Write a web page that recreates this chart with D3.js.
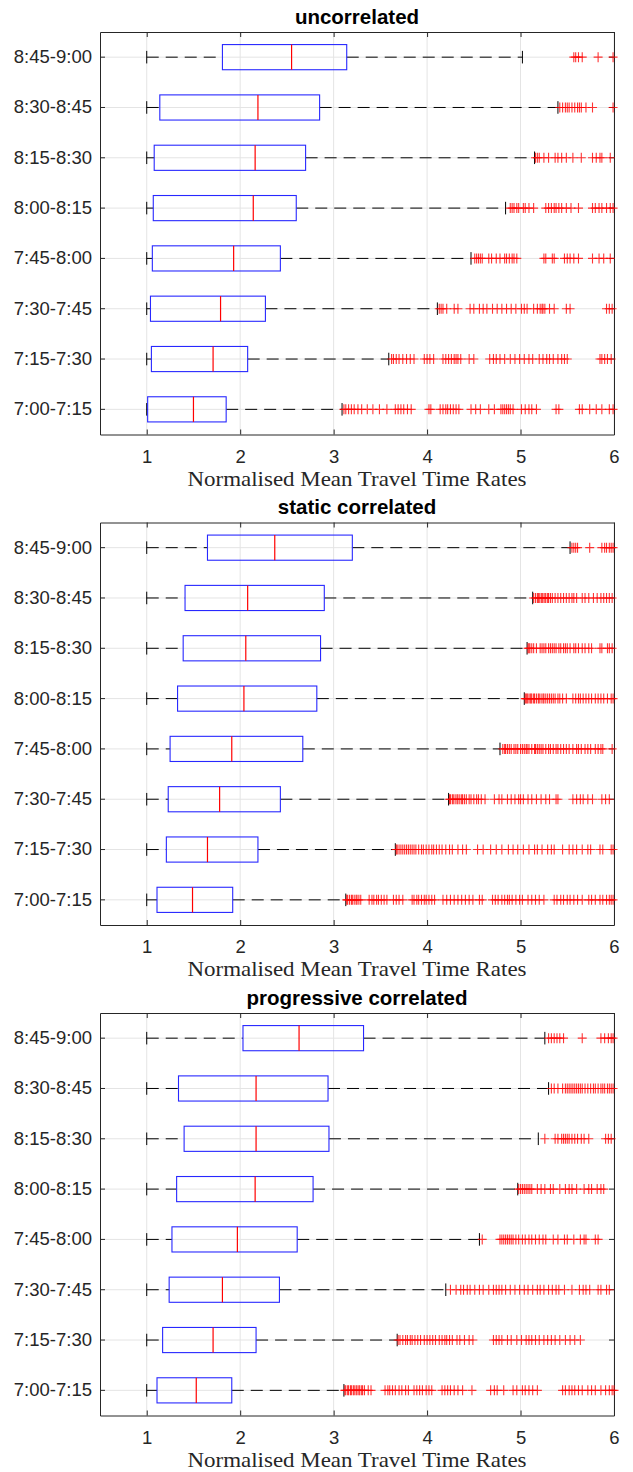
<!DOCTYPE html>
<html lang="en">
<head>
<meta charset="utf-8">
<title>Normalised Mean Travel Time Rates</title>
<style>
  body { margin: 0; background: #fff; }
  .axis text { font-family: "Liberation Sans", Arial, sans-serif; font-size: 18.5px; fill: #262626; }
  .axis path, .axis line { stroke: #262626; }
  .ttl { font-family: "Liberation Sans", Arial, sans-serif; font-weight: bold; font-size: 20.5px; }
  .xlab { font-family: "Liberation Serif", serif; font-size: 21px; fill: #262626; }
</style>
<script src="https://cdn.jsdelivr.net/npm/d3@7"></script>
</head>
<body>
<svg width="633" height="1472"></svg>
<script>
// categories, bottom (first) to top (last)
var periods = ["7:00-7:15", "7:15-7:30", "7:30-7:45", "7:45-8:00", "8:00-8:15", "8:15-8:30", "8:30-8:45", "8:45-9:00"];
var xTicks = [1, 2, 3, 4, 5, 6];
var titles = ["uncorrelated", "static correlated", "progressive correlated"];
var xLabel = "Normalised Mean Travel Time Rates";

// uncorrelated
var uncLo  = [1.00, 1.00, 1.00, 1.00, 1.00, 1.00, 1.00, 1.00];
var uncQ1  = [1.01, 1.05, 1.04, 1.06, 1.07, 1.08, 1.14, 1.81];
var uncMed = [1.50, 1.71, 1.79, 1.93, 2.14, 2.16, 2.19, 2.55];
var uncQ3  = [1.85, 2.08, 2.27, 2.43, 2.60, 2.70, 2.85, 3.14];
var uncHi  = [3.09, 3.59, 4.11, 4.47, 4.84, 5.15, 5.40, 5.02];
var uncOut = [
  [3.11,3.13,3.16,3.19,3.22,3.26,3.30,3.36,3.42,3.49,3.57,3.66,3.69,3.72,3.75,3.79,3.83,4.02,4.04,4.14,4.17,4.20,4.22,4.25,4.28,4.31,4.34,4.47,4.52,4.57,4.66,4.72,4.79,4.81,4.83,4.85,4.87,4.89,4.92,5.01,5.05,5.09,5.12,5.17,5.38,5.41,5.63,5.66,5.74,5.81,5.87,5.95,5.99],
  [3.62,3.64,3.67,3.70,3.74,3.78,3.82,3.86,3.97,4.00,4.03,4.07,4.17,4.20,4.23,4.26,4.29,4.31,4.33,4.36,4.45,4.50,4.67,4.71,4.74,4.78,4.83,4.89,4.94,4.99,5.04,5.09,5.13,5.20,5.24,5.28,5.31,5.35,5.40,5.44,5.47,5.50,5.85,5.87,5.90,5.93,5.97],
  [4.13,4.15,4.17,4.21,4.29,4.33,4.46,4.50,4.56,4.60,4.64,4.70,4.75,4.80,4.85,4.90,4.95,5.01,5.04,5.07,5.14,5.18,5.21,5.23,5.24,5.26,5.31,5.36,5.49,5.53,5.92,5.95,5.98],
  [4.51,4.53,4.55,4.57,4.59,4.66,4.69,4.74,4.78,4.83,4.85,4.88,4.91,4.93,4.96,5.25,5.27,5.34,5.36,5.47,5.50,5.53,5.57,5.62,5.77,5.84,5.89,5.96],
  [4.89,4.91,4.93,4.96,4.98,5.03,5.05,5.09,5.14,5.27,5.30,5.33,5.36,5.38,5.41,5.44,5.49,5.54,5.62,5.77,5.80,5.84,5.87,5.92,5.96,5.99],
  [5.16,5.18,5.20,5.25,5.30,5.37,5.40,5.44,5.49,5.56,5.65,5.77,5.81,5.85,5.87,5.96],
  [5.42,5.45,5.48,5.50,5.52,5.55,5.58,5.61,5.63,5.65,5.70,5.77,5.99],
  [5.57,5.59,5.62,5.66,5.83,5.99]
];

// static correlated
var stcLo  = [1.00, 1.00, 1.00, 1.00, 1.00, 1.00, 1.00, 1.00];
var stcQ1  = [1.11, 1.21, 1.23, 1.25, 1.33, 1.39, 1.41, 1.65];
var stcMed = [1.49, 1.65, 1.78, 1.91, 2.04, 2.06, 2.08, 2.37];
var stcQ3  = [1.92, 2.19, 2.43, 2.67, 2.82, 2.86, 2.90, 3.20];
var stcHi  = [3.13, 3.66, 4.23, 4.78, 5.04, 5.07, 5.13, 5.53];
var stcOut = [
  [3.14,3.15,3.17,3.19,3.20,3.22,3.24,3.25,3.27,3.29,3.38,3.41,3.43,3.46,3.48,3.51,3.54,3.57,3.64,3.67,3.70,3.74,3.84,3.86,3.89,3.91,3.94,3.97,3.99,4.02,4.05,4.08,4.17,4.21,4.25,4.29,4.33,4.37,4.41,4.45,4.49,4.56,4.59,4.70,4.73,4.76,4.80,4.83,4.86,4.88,4.91,4.95,4.99,5.02,5.08,5.12,5.16,5.20,5.25,5.36,5.39,5.43,5.46,5.50,5.53,5.57,5.61,5.66,5.73,5.76,5.80,5.85,5.88,5.92,5.95,5.97,5.99],
  [3.67,3.68,3.70,3.72,3.74,3.76,3.78,3.80,3.82,3.84,3.86,3.88,3.91,3.94,3.96,3.99,4.02,4.05,4.07,4.10,4.13,4.16,4.20,4.24,4.27,4.33,4.38,4.42,4.54,4.60,4.68,4.74,4.80,4.87,4.92,4.97,5.03,5.09,5.15,5.18,5.23,5.29,5.33,5.36,5.45,5.52,5.56,5.60,5.66,5.72,5.75,5.85,5.88,5.97,5.99],
  [4.24,4.25,4.27,4.28,4.30,4.32,4.33,4.35,4.37,4.38,4.40,4.42,4.45,4.47,4.50,4.53,4.55,4.58,4.62,4.72,4.77,4.80,4.86,4.90,4.94,4.98,5.00,5.03,5.08,5.12,5.17,5.22,5.27,5.31,5.38,5.40,5.56,5.60,5.64,5.67,5.72,5.77,5.87,5.91,5.95],
  [4.81,4.83,4.84,4.86,4.88,4.90,4.93,4.95,4.97,5.00,5.02,5.04,5.06,5.07,5.09,5.12,5.15,5.16,5.18,5.20,5.22,5.24,5.27,5.30,5.32,5.35,5.38,5.40,5.43,5.46,5.49,5.52,5.56,5.60,5.62,5.65,5.69,5.72,5.75,5.80,5.83,5.86,5.88,5.98],
  [5.05,5.06,5.07,5.08,5.10,5.11,5.12,5.14,5.15,5.17,5.19,5.20,5.22,5.24,5.25,5.27,5.29,5.31,5.33,5.35,5.37,5.40,5.42,5.45,5.49,5.56,5.59,5.62,5.64,5.67,5.70,5.73,5.76,5.80,5.83,5.86,5.89,5.93,5.97,5.99],
  [5.08,5.09,5.10,5.12,5.14,5.17,5.21,5.23,5.25,5.27,5.30,5.32,5.34,5.36,5.38,5.41,5.43,5.46,5.48,5.50,5.53,5.57,5.59,5.62,5.66,5.69,5.73,5.76,5.85,5.87,5.93,5.95,5.98],
  [5.14,5.16,5.18,5.19,5.20,5.22,5.23,5.24,5.26,5.27,5.29,5.30,5.32,5.34,5.37,5.40,5.43,5.46,5.49,5.52,5.55,5.57,5.60,5.66,5.69,5.73,5.78,5.82,5.86,5.89,5.92,5.95,5.98],
  [5.55,5.57,5.59,5.61,5.74,5.87,5.90,5.92,5.95,5.97,5.99]
];

// progressive correlated
var prgLo  = [1.00, 1.00, 1.00, 1.00, 1.00, 1.00, 1.00, 1.00];
var prgQ1  = [1.11, 1.17, 1.24, 1.27, 1.32, 1.40, 1.34, 2.03];
var prgMed = [1.53, 1.71, 1.81, 1.97, 2.16, 2.17, 2.17, 2.63];
var prgQ3  = [1.91, 2.17, 2.42, 2.61, 2.78, 2.95, 2.94, 3.32];
var prgHi  = [3.11, 3.68, 4.20, 4.56, 4.97, 5.19, 5.30, 5.26];
var prgOut = [
  [3.12,3.13,3.15,3.16,3.18,3.19,3.21,3.22,3.24,3.25,3.27,3.28,3.30,3.31,3.33,3.37,3.40,3.55,3.58,3.60,3.63,3.66,3.70,3.73,3.77,3.80,3.86,3.89,3.92,3.95,3.99,4.02,4.05,4.16,4.19,4.22,4.25,4.29,4.33,4.38,4.48,4.68,4.72,4.75,4.82,4.92,4.96,5.02,5.05,5.09,5.13,5.18,5.45,5.48,5.52,5.55,5.58,5.62,5.66,5.72,5.76,5.80,5.86,5.91,5.95,5.98,6.00],
  [3.69,3.71,3.74,3.77,3.79,3.82,3.84,3.87,3.90,3.93,3.97,4.00,4.03,4.06,4.09,4.13,4.16,4.19,4.21,4.24,4.27,4.32,4.35,4.40,4.45,4.49,4.71,4.74,4.77,4.80,4.86,4.90,4.96,5.01,5.06,5.09,5.12,5.16,5.20,5.25,5.29,5.33,5.37,5.42,5.48,5.53,5.58,5.64],
  [4.25,4.31,4.36,4.39,4.43,4.46,4.51,4.56,4.60,4.66,4.71,4.74,4.77,4.80,4.84,4.89,4.94,4.99,5.04,5.08,5.13,5.18,5.21,5.25,5.30,5.34,5.38,5.41,5.47,5.55,5.63,5.67,5.70,5.74,5.83,5.86,5.92,5.95],
  [4.59,4.78,4.80,4.82,4.84,4.86,4.88,4.90,4.92,4.95,4.98,5.02,5.05,5.09,5.12,5.16,5.20,5.24,5.27,5.35,5.40,5.47,5.50,5.57,5.64,5.68,5.70,5.80,5.83],
  [4.98,5.00,5.02,5.04,5.06,5.08,5.10,5.12,5.18,5.22,5.26,5.32,5.35,5.42,5.48,5.52,5.55,5.60,5.68,5.73,5.76,5.82,5.86,5.89],
  [5.26,5.37,5.40,5.44,5.46,5.48,5.50,5.52,5.55,5.58,5.61,5.65,5.68,5.73,5.91,5.94,5.97],
  [5.33,5.36,5.40,5.45,5.48,5.50,5.52,5.54,5.56,5.58,5.60,5.62,5.64,5.66,5.69,5.72,5.75,5.78,5.80,5.83,5.86,5.88,5.90,5.93,5.95,5.97,5.99],
  [5.30,5.33,5.36,5.39,5.42,5.46,5.66,5.86,5.90,5.94,5.97,5.99]
];

var series = [
  {lo: uncLo, q1: uncQ1, med: uncMed, q3: uncQ3, hi: uncHi, out: uncOut},
  {lo: stcLo, q1: stcQ1, med: stcMed, q3: stcQ3, hi: stcHi, out: stcOut},
  {lo: prgLo, q1: prgQ1, med: prgMed, q3: prgQ3, hi: prgHi, out: prgOut}
];

var svg = d3.select("svg");
var tops = [32, 522.5, 1013];
var plotH = 402.5;
var x = d3.scaleLinear().domain([0.5, 6]).range([100, 614]);

series.forEach(function(s, i) {
  var top = tops[i], bottom = top + plotH;
  var y = d3.scaleBand().domain(periods.slice().reverse()).range([top, bottom]);
  var bw = y.bandwidth();
  var cy = function(k) { return y(periods[k]) + bw / 2; };
  var g = svg.append("g");

  // grid
  g.selectAll(".vg").data(xTicks).enter().append("line")
    .attr("x1", x).attr("x2", x).attr("y1", top).attr("y2", bottom)
    .attr("stroke", "#e4e4e4");
  g.selectAll(".hg").data(periods).enter().append("line")
    .attr("x1", x.range()[0]).attr("x2", x.range()[1])
    .attr("y1", function(d, k) { return cy(k); }).attr("y2", function(d, k) { return cy(k); })
    .attr("stroke", "#e4e4e4");

  // axes (box on, ticks inside)
  g.append("g").attr("class", "axis").attr("transform", "translate(0," + bottom + ")")
    .call(d3.axisBottom(x).tickValues(xTicks).tickFormat(d3.format("d")).tickSizeInner(-5).tickSizeOuter(0).tickPadding(15));
  g.append("g").attr("class", "axis").attr("transform", "translate(0," + top + ")")
    .call(d3.axisTop(x).tickValues(xTicks).tickFormat("").tickSizeInner(-5).tickSizeOuter(0));
  g.append("g").attr("class", "axis").attr("transform", "translate(" + x.range()[0] + ",0)")
    .call(d3.axisLeft(y).tickSizeInner(-5).tickSizeOuter(0).tickPadding(8));
  g.append("g").attr("class", "axis").attr("transform", "translate(" + x.range()[1] + ",0)")
    .call(d3.axisRight(y).tickFormat("").tickSizeInner(-5).tickSizeOuter(0));
  g.selectAll(".axis").attr("font-family", null).attr("font-size", null);

  var rows = periods.map(function(p, k) { return k; });

  // whiskers
  g.selectAll(".wl").data(rows).enter().append("line")
    .attr("x1", function(k) { return x(s.lo[k]); }).attr("x2", function(k) { return x(s.q1[k]); })
    .attr("y1", cy).attr("y2", cy)
    .attr("stroke", "#000").attr("stroke-dasharray", "12,7");
  g.selectAll(".wh").data(rows).enter().append("line")
    .attr("x1", function(k) { return x(s.q3[k]); }).attr("x2", function(k) { return x(s.hi[k]); })
    .attr("y1", cy).attr("y2", cy)
    .attr("stroke", "#000").attr("stroke-dasharray", "12,7");
  // caps
  [s.lo, s.hi].forEach(function(arr) {
    g.selectAll(null).data(rows).enter().append("line")
      .attr("x1", function(k) { return x(arr[k]); }).attr("x2", function(k) { return x(arr[k]); })
      .attr("y1", function(k) { return cy(k) - bw / 8; }).attr("y2", function(k) { return cy(k) + bw / 8; })
      .attr("stroke", "#000");
  });

  // boxes
  g.selectAll(".bx").data(rows).enter().append("rect")
    .attr("x", function(k) { return x(s.q1[k]); })
    .attr("width", function(k) { return x(s.q3[k]) - x(s.q1[k]); })
    .attr("y", function(k) { return cy(k) - bw / 4; })
    .attr("height", bw / 2)
    .attr("fill", "none").attr("stroke", "#2828ff").attr("stroke-width", 1.1);
  g.selectAll(".md").data(rows).enter().append("line")
    .attr("x1", function(k) { return x(s.med[k]); }).attr("x2", function(k) { return x(s.med[k]); })
    .attr("y1", function(k) { return cy(k) - bw / 4; }).attr("y2", function(k) { return cy(k) + bw / 4; })
    .attr("stroke", "#ff0000").attr("stroke-width", 1.2);

  // outliers
  rows.forEach(function(k) {
    g.selectAll(null).data(s.out[k]).enter().append("path")
      .attr("transform", function(v) { return "translate(" + x(v) + "," + cy(k) + ")"; })
      .attr("d", "M-4.5,0H4.5M0,-5V5")
      .attr("stroke", "#ff0000").attr("stroke-width", 1.1).attr("stroke-opacity", 0.8).attr("fill", "none");
  });

  // title and x label
  g.append("text").attr("class", "ttl")
    .attr("x", (x.range()[0] + x.range()[1]) / 2).attr("y", top - 8.5)
    .attr("text-anchor", "middle").text(titles[i]);
  g.append("text").attr("class", "xlab")
    .attr("x", (x.range()[0] + x.range()[1]) / 2).attr("y", bottom + 51)
    .attr("text-anchor", "middle")
    .attr("textLength", 339).attr("lengthAdjust", "spacingAndGlyphs")
    .text(xLabel);
});
</script>
</body>
</html>
